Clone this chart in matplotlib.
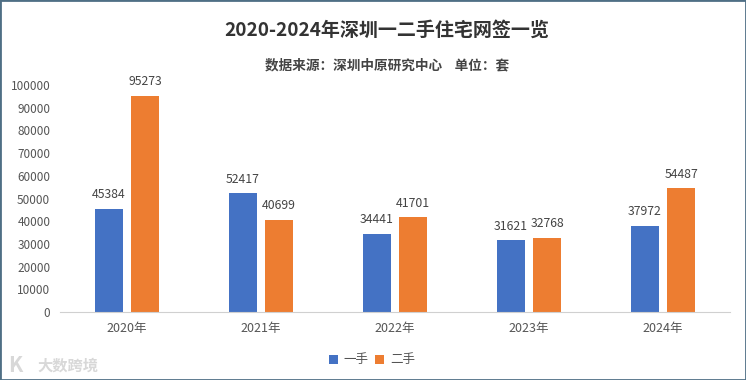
import numpy as np
import matplotlib.pyplot as plt
from matplotlib.patches import Rectangle

plt.rcParams['font.family'] = ['Noto Sans CJK SC', 'DejaVu Sans']

years = ['2020年', '2021年', '2022年', '2023年', '2024年']
new_homes = [45384, 52417, 34441, 31621, 37972]
used_homes = [95273, 40699, 41701, 32768, 54487]
y_ticks = [0, 10000, 20000, 30000, 40000, 50000, 60000, 70000, 80000, 90000, 100000]

W, H = 746, 380
fig = plt.figure(figsize=(W / 100, H / 100), dpi=100, facecolor='white')
ax = fig.add_axes([60 / W, 1 - 312 / H, 670 / W, 227 / H])

x = np.arange(len(years))
bar_w = 0.21
ax.bar(x - 0.135, new_homes, bar_w, color='#4472C4', label='一手')
ax.bar(x + 0.135, used_homes, bar_w, color='#ED7D31', label='二手')

for i in range(len(years)):
    ax.text(x[i] - 0.135, new_homes[i] + 3300, str(new_homes[i]), ha='center', va='bottom',
            fontsize=8.8, color='#444444')
    ax.text(x[i] + 0.135, used_homes[i] + 3300, str(used_homes[i]), ha='center', va='bottom',
            fontsize=8.8, color='#444444')

ax.set_xlim(-0.5, 4.5)
ax.set_ylim(0, 100000)
ax.set_xticks(x)
ax.set_xticklabels(years)
ax.set_yticks(y_ticks)
ax.tick_params(axis='both', length=0, labelsize=8.5, labelcolor='#555555')
ax.tick_params(axis='x', pad=7.5, labelsize=9)
ax.tick_params(axis='y', pad=7)
for side in ['top', 'right', 'left']:
    ax.spines[side].set_visible(False)
ax.spines['bottom'].set_color('#D0D0D0')

fig.text(387 / W, 1 - 30 / H, '2020-2024年深圳一二手住宅网签一览', ha='center', va='center',
         fontsize=13.7, fontweight='bold', color='#333333')
fig.text(387 / W, 1 - 65 / H, '数据来源：深圳中原研究中心    单位：套', ha='center', va='center',
         fontsize=9.8, fontweight='bold', color='#444444')

handles, labels = ax.get_legend_handles_labels()
fig.legend(handles, labels, loc='center', bbox_to_anchor=(372 / W, 1 - 360 / H), ncol=2,
           frameon=False, fontsize=9, labelcolor='#555555', handlelength=0.7, handleheight=0.7,
           handletextpad=0.45, columnspacing=0.55)

# watermark
fig.text(8 / W, 1 - 366 / H, 'K', fontsize=15, fontweight='bold', color='#D8D8D8', va='center')
fig.text(37 / W, 1 - 366 / H, '大数跨境', fontsize=11, fontweight='bold', color='#D8D8D8', va='center')

# picture border
fig.add_artist(Rectangle((0, 0), 1, 1, transform=fig.transFigure, fill=False,
                         edgecolor='#4F6F85', linewidth=2))

fig.savefig('out.png', dpi=100)
